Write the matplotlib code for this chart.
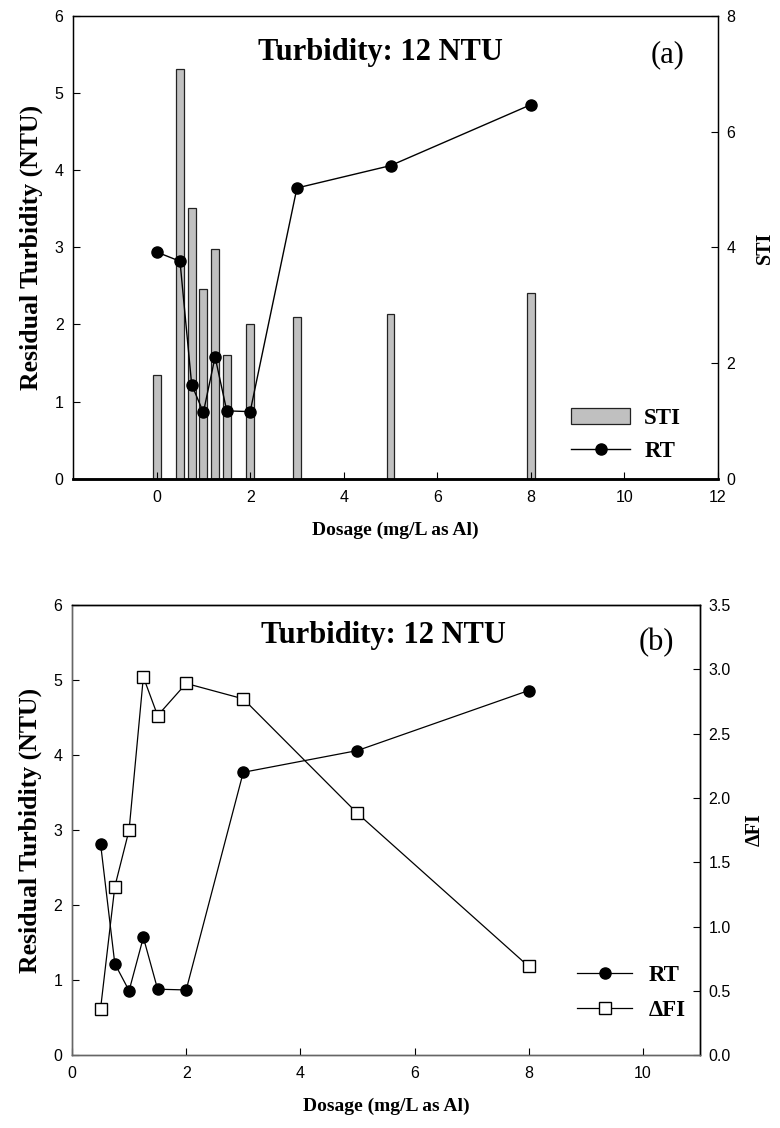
import matplotlib
matplotlib.use('Agg')
import matplotlib.pyplot as plt
from matplotlib.ticker import FormatStrFormatter

# ---- data ----
dosage_a = [0, 0.5, 0.75, 1.0, 1.25, 1.5, 2, 3, 5, 8]
sti_a = [1.80, 7.08, 4.68, 3.28, 3.98, 2.14, 2.68, 2.80, 2.84, 3.21]
rt_a = [2.94, 2.82, 1.22, 0.86, 1.58, 0.88, 0.87, 3.77, 4.06, 4.85]

dosage_b = [0.5, 0.75, 1.0, 1.25, 1.5, 2, 3, 5, 8]
rt_b = [2.82, 1.22, 0.86, 1.57, 0.88, 0.87, 3.77, 4.06, 4.86]
dfi_b = [0.36, 1.31, 1.75, 2.94, 2.64, 2.89, 2.77, 1.88, 0.69]

title_text = "Turbidity: 12 NTU"
xlabel_text = "Dosage (mg/L as Al)"
ylabel_text = "Residual Turbidity (NTU)"

SERIF = ['Liberation Serif', 'DejaVu Serif']
SANS = ['Liberation Sans', 'DejaVu Sans']
plt.rcParams['font.family'] = SANS

fig = plt.figure(figsize=(7.8, 11.28), dpi=100)

def style_ticks(ax):
    ax.tick_params(axis='both', direction='in', length=5, width=0.8,
                   labelsize=11.5, colors='black')
    ax.tick_params(axis='y', pad=7)
    ax.tick_params(axis='x', pad=8)

# ================= panel (a) =================
ax1 = fig.add_axes([0.094, 0.5756, 0.8265, 0.4102])
ax1r = ax1.twinx()
ax1.set_zorder(ax1r.get_zorder() + 1)
ax1.patch.set_visible(False)

bars = ax1r.bar(dosage_a, sti_a, width=0.17, color='#c0c0c0',
                edgecolor='#222222', linewidth=0.9, label='STI')
line_a, = ax1.plot(dosage_a, rt_a, color='black', linewidth=1.0,
                   marker='o', markersize=8, markerfacecolor='black',
                   markeredgecolor='black', label='RT')

ax1.set_xlim(-1.78, 12)
ax1.set_ylim(0, 6)
ax1r.set_ylim(0, 8)
ax1.set_xticks([0, 2, 4, 6, 8, 10, 12])
ax1.set_yticks([0, 1, 2, 3, 4, 5, 6])
ax1r.set_yticks([0, 2, 4, 6, 8])
for a in (ax1, ax1r):
    style_ticks(a)
ax1r.tick_params(axis='y', pad=6)
for sp in ax1.spines.values():
    sp.set_linewidth(1.0)
ax1.spines['bottom'].set_linewidth(1.8)
ax1r.spines['bottom'].set_linewidth(1.8)

ax1.set_xlabel(xlabel_text, fontfamily=SERIF, fontweight='bold', fontsize=14, labelpad=12)
ax1.set_ylabel(ylabel_text, fontfamily=SERIF, fontweight='bold', fontsize=18.5, labelpad=8)
ax1r.set_ylabel("STI", fontfamily=SERIF, fontweight='bold', fontsize=14.5, labelpad=14)

ax1.text(0.477, 0.906, title_text, transform=ax1.transAxes, ha='center', va='baseline',
         fontfamily=SERIF, fontweight='bold', fontsize=22)
ax1.text(0.922, 0.900, "(a)", transform=ax1.transAxes, ha='center', va='baseline',
         fontfamily=SERIF, fontsize=22)

leg1 = ax1.legend([bars, line_a], ['STI', 'RT'], loc='lower right',
                  bbox_to_anchor=(0.975, -0.008), frameon=False,
                  prop={'family': SERIF, 'weight': 'bold', 'size': 16.5},
                  handlelength=2.6, handletextpad=0.6, labelspacing=0.5)

# ================= panel (b) =================
ax2 = fig.add_axes([0.0923, 0.0645, 0.8051, 0.3992])
ax2r = ax2.twinx()
ax2.set_zorder(ax2r.get_zorder() + 1)
ax2.patch.set_visible(False)

line_rt, = ax2.plot(dosage_b, rt_b, color='black', linewidth=0.9,
                    marker='o', markersize=8, markerfacecolor='black',
                    markeredgecolor='black', label='RT')
line_fi, = ax2r.plot(dosage_b, dfi_b, color='black', linewidth=0.9,
                     marker='s', markersize=8.5, markerfacecolor='white',
                     markeredgecolor='black', markeredgewidth=1.0, label='ΔFI')

ax2.set_xlim(0, 11)
ax2.set_ylim(0, 6)
ax2r.set_ylim(0, 3.5)
ax2.set_xticks([0, 2, 4, 6, 8, 10])
ax2.set_yticks([0, 1, 2, 3, 4, 5, 6])
ax2r.set_yticks([0, 0.5, 1.0, 1.5, 2.0, 2.5, 3.0, 3.5])
ax2r.yaxis.set_major_formatter(FormatStrFormatter('%.1f'))
for a in (ax2, ax2r):
    style_ticks(a)
ax2r.tick_params(axis='y', pad=6)
for a in (ax2, ax2r):
    a.spines['left'].set_color('#666666')
    a.spines['bottom'].set_color('#666666')
    a.spines['top'].set_color('black')
    a.spines['right'].set_color('black')
    for sp in a.spines.values():
        sp.set_linewidth(1.0)

ax2.set_xlabel(xlabel_text, fontfamily=SERIF, fontweight='bold', fontsize=14, labelpad=12)
ax2.set_ylabel(ylabel_text, fontfamily=SERIF, fontweight='bold', fontsize=18.5, labelpad=8)
ax2r.set_ylabel("ΔFI", fontfamily=SERIF, fontweight='bold', fontsize=14.5, labelpad=10)

ax2.text(0.496, 0.916, title_text, transform=ax2.transAxes, ha='center', va='baseline',
         fontfamily=SERIF, fontweight='bold', fontsize=22)
ax2.text(0.93, 0.900, "(b)", transform=ax2.transAxes, ha='center', va='baseline',
         fontfamily=SERIF, fontsize=22)

leg2 = ax2.legend([line_rt, line_fi], ['RT', 'ΔFI'], loc='lower right',
                  bbox_to_anchor=(1.01, 0.03), frameon=False,
                  prop={'family': SERIF, 'weight': 'bold', 'size': 16.5},
                  handlelength=2.4, handletextpad=0.7, labelspacing=0.62)

fig.savefig('out.png', dpi=100)
